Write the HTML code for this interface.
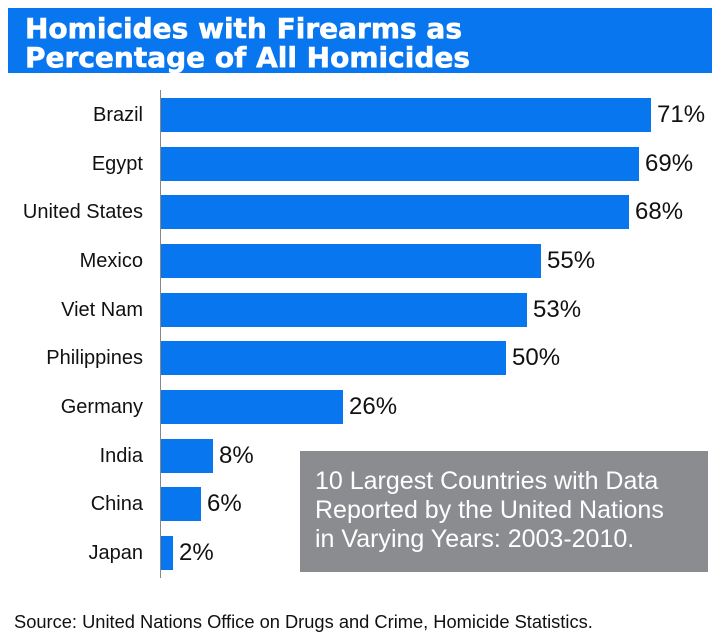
<!DOCTYPE html>
<html><head><meta charset="utf-8"><style>
body{margin:0;width:720px;height:643px;background:#fff;position:relative;font-family:"Liberation Sans",sans-serif;overflow:hidden}
.t{position:absolute;left:8px;top:8px;width:704px;height:65px;background:#0876ee;color:#fff;font-family:"DejaVu Sans",sans-serif;font-weight:bold;font-size:28px;line-height:29px;box-sizing:border-box;padding:6px 0 0 17px;-webkit-text-stroke:0.6px #fff}
.ax{position:absolute;left:160px;top:90px;width:1px;height:488px;background:#888}
.b{position:absolute;left:161px;height:34px;background:#0876ee}
.v{position:absolute;font-size:24px;color:#111;line-height:34px}
.c{position:absolute;right:577px;font-size:20px;color:#111;line-height:34px;text-align:right}
.box{position:absolute;left:300px;top:451px;width:408px;height:121px;background:#8a8c8f;color:#fff;font-size:25px;line-height:29px;box-sizing:border-box;padding:16px 0 0 15px}
.src{position:absolute;left:14px;top:611px;font-size:18.3px;color:#111}
</style></head><body>
<div class="t">Homicides with Firearms as<br>Percentage of All Homicides</div>
<div class="ax"></div>
<div class="c" style="top:98px">Brazil</div><div class="b" style="top:98px;width:490px"></div><div class="v" style="top:98px;left:657px">71%</div>
<div class="c" style="top:147px">Egypt</div><div class="b" style="top:147px;width:478px"></div><div class="v" style="top:147px;left:645px">69%</div>
<div class="c" style="top:195px">United States</div><div class="b" style="top:195px;width:468px"></div><div class="v" style="top:195px;left:635px">68%</div>
<div class="c" style="top:244px">Mexico</div><div class="b" style="top:244px;width:380px"></div><div class="v" style="top:244px;left:547px">55%</div>
<div class="c" style="top:293px">Viet Nam</div><div class="b" style="top:293px;width:366px"></div><div class="v" style="top:293px;left:533px">53%</div>
<div class="c" style="top:341px">Philippines</div><div class="b" style="top:341px;width:345px"></div><div class="v" style="top:341px;left:512px">50%</div>
<div class="c" style="top:390px">Germany</div><div class="b" style="top:390px;width:182px"></div><div class="v" style="top:390px;left:349px">26%</div>
<div class="c" style="top:439px">India</div><div class="b" style="top:439px;width:52px"></div><div class="v" style="top:439px;left:219px">8%</div>
<div class="c" style="top:487px">China</div><div class="b" style="top:487px;width:40px"></div><div class="v" style="top:487px;left:207px">6%</div>
<div class="c" style="top:536px">Japan</div><div class="b" style="top:536px;width:12px"></div><div class="v" style="top:536px;left:179px">2%</div>
<div class="box">10 Largest Countries with Data<br>Reported by the United Nations<br>in Varying Years: 2003-2010.</div>
<div class="src">Source: United Nations Office on Drugs and Crime, Homicide Statistics.</div>
</body></html>
